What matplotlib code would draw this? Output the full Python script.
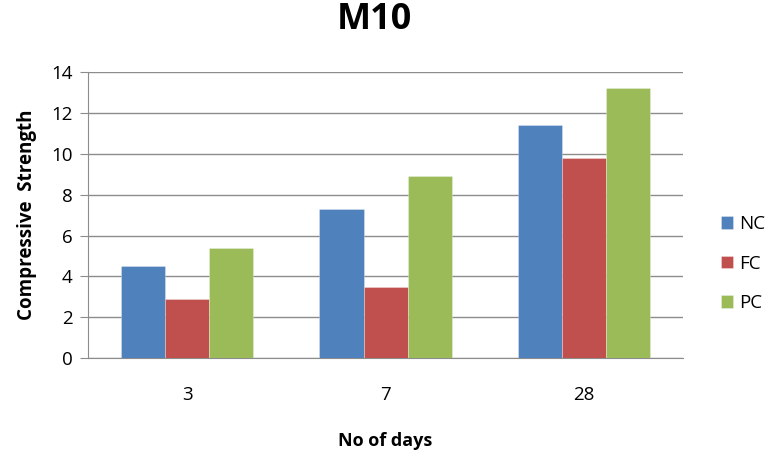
import numpy as np
import matplotlib
matplotlib.use('Agg')
import matplotlib.pyplot as plt

plt.rcParams['font.family'] = ['Open Sans', 'DejaVu Sans']

# compressive strength of M10 mix by curing age
days = ['3', '7', '28']
nc = [4.5, 7.3, 11.4]
fc = [2.9, 3.5, 9.8]
pc = [5.4, 8.9, 13.2]

series = [('NC', nc, '#4F81BD'), ('FC', fc, '#C0504D'), ('PC', pc, '#9BBB59')]

fig = plt.figure(figsize=(7.65, 4.5), dpi=100)
ax = fig.add_axes([0.115, 0.204, 0.778, 0.636])

x = np.arange(len(days))
w = 0.222
for i, (name, vals, col) in enumerate(series):
    ax.bar(x + (i - 1) * w, vals, w, color=col, label=name, zorder=3,
           edgecolor=(1, 1, 1, 0.35), linewidth=0.6)

ax.set_xlim(-0.5, 2.5)
ax.set_ylim(0, 14)
ax.set_yticks(np.arange(0, 15, 2))
ax.set_xticks(x)
ax.set_xticklabels(days)
ax.grid(axis='y', color='#8C8C8C', linewidth=1, zorder=0)
for s in ['top', 'right']:
    ax.spines[s].set_visible(False)
ax.spines['left'].set_color('#8C8C8C')
ax.spines['bottom'].set_color('#8C8C8C')
ax.tick_params(axis='y', length=6, color='#8C8C8C', labelsize=13.5, pad=5)
ax.tick_params(axis='x', length=0, labelsize=13.5, pad=20)

ax.set_ylabel('Compressive  Strength', fontsize=13.5, fontweight='bold', labelpad=10)
ax.set_xlabel('No of days', fontsize=13, fontweight='bold', labelpad=20)
fig.suptitle('M10', fontsize=26, fontweight='bold', x=0.49, y=0.995)

ax.legend(loc='center left', bbox_to_anchor=(1.035, 0.33), frameon=False,
          fontsize=13.5, handlelength=0.65, handleheight=0.65, handletextpad=0.35,
          labelspacing=1.15)

fig.savefig('out.png', dpi=100)
